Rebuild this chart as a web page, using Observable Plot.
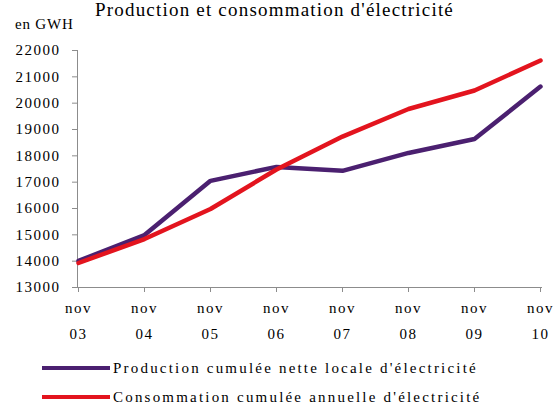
<!DOCTYPE html>
<html>
<head>
<meta charset="utf-8">
<script src="https://cdn.jsdelivr.net/npm/d3@7"></script>
<script src="https://cdn.jsdelivr.net/npm/@observablehq/plot@0.6"></script>
<style>
  html, body { margin: 0; padding: 0; background: #fff; }
  #wrap { position: relative; width: 557px; height: 410px; overflow: hidden; font-family: "Liberation Serif", "Times New Roman", serif; color: #000; }
  #title { position: absolute; left: 0; width: 557px; top: 0px; text-align: center; font-size: 19px; line-height: 19px; letter-spacing: 1.2px; white-space: nowrap; }
  #title span { position: relative; left: -4px; }
  #unit { position: absolute; left: 15px; top: 16px; font-size: 15px; line-height: 16px; letter-spacing: 0.8px; white-space: nowrap; }
  #chart { position: absolute; left: 0; top: 0; }
  #chart svg text { font-family: "Liberation Serif", "Times New Roman", serif; }
  .leg { position: absolute; left: 42px; height: 20px; display: flex; align-items: center; white-space: nowrap; }
  .leg .sw { width: 68px; height: 4px; margin-right: 3px; }
  .leg .lb { font-size: 15px; letter-spacing: 2.2px; }
</style>
</head>
<body>
<div id="wrap">
  <div id="chart"></div>
  <div id="title"><span>Production et consommation d'électricité</span></div>
  <div id="unit"></div>
  <div id="legend"></div>
</div>
<script>
const categories = ["03", "04", "05", "06", "07", "08", "09", "10"];
const monthLabel = "nov";
const production = [14010, 14990, 17050, 17580, 17430, 18110, 18640, 20630];
const consommation = [13930, 14840, 15980, 17480, 18730, 19780, 20480, 21620];
const yTicks = [13000, 14000, 15000, 16000, 17000, 18000, 19000, 20000, 21000, 22000];
const seriesNames = ["Production cumulée nette locale d'électricité", "Consommation cumulée annuelle d'électricité"];
const seriesColors = ["#4b2070", "#e3141e"];
const unitLabel = "en GWH";

document.getElementById("unit").textContent = unitLabel;

const prodData = categories.map((c, i) => ({cat: c, value: production[i]}));
const consData = categories.map((c, i) => ({cat: c, value: consommation[i]}));

const chart = Plot.plot({
  width: 557,
  height: 352,
  marginLeft: 77,
  marginRight: 16,
  marginTop: 50,
  marginBottom: 65,
  style: {fontFamily: "'Liberation Serif', 'Times New Roman', serif", fontSize: "15px", letterSpacing: "1.5px", color: "#000", background: "transparent"},
  x: {type: "point", domain: categories, padding: 0},
  y: {domain: [13000, 22000]},
  marks: [
    Plot.frame({anchor: "left", stroke: "#8c8c8c", strokeOpacity: 1}),
    Plot.frame({anchor: "bottom", stroke: "#8c8c8c", strokeOpacity: 1}),
    Plot.axisY({ticks: yTicks, tickFormat: d3.format("d"), tickSize: 5, tickPadding: 12, stroke: "#8c8c8c", fill: "#000", label: null}),
    Plot.axisX({tickFormat: d => monthLabel + "\n" + d, tickSize: 5, tickPadding: 2, lineHeight: 1.72, stroke: "#8c8c8c", fill: "#000", label: null}),
    Plot.line(prodData, {x: "cat", y: "value", stroke: seriesColors[0], strokeWidth: 4.5, strokeLinejoin: "round", strokeLinecap: "round"}),
    Plot.line(consData, {x: "cat", y: "value", stroke: seriesColors[1], strokeWidth: 4.5, strokeLinejoin: "round", strokeLinecap: "round"})
  ]
});
document.getElementById("chart").appendChild(chart);

const legend = document.getElementById("legend");
const legendTops = [358, 387];
seriesNames.forEach((name, i) => {
  const row = document.createElement("div");
  row.className = "leg";
  row.style.top = legendTops[i] + "px";
  const sw = document.createElement("div");
  sw.className = "sw";
  sw.style.background = seriesColors[i];
  const lb = document.createElement("div");
  lb.className = "lb";
  lb.textContent = name;
  row.appendChild(sw);
  row.appendChild(lb);
  legend.appendChild(row);
});
</script>
</body>
</html>
